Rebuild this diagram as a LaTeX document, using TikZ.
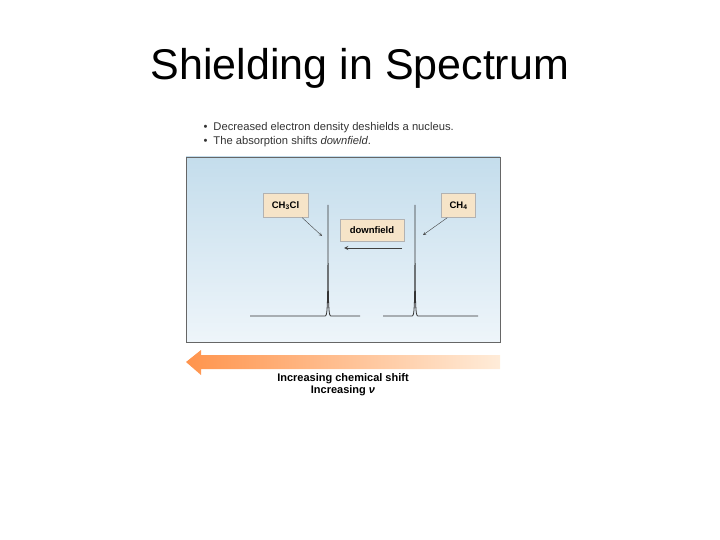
\documentclass[tikz,border=0pt]{standalone}
\usepackage{fontspec}
\setmainfont{Liberation Sans}
\definecolor{pantop}{HTML}{C4DDEC}
\definecolor{panbot}{HTML}{EEF5FA}
\definecolor{lblfill}{HTML}{F6E4C8}
\begin{document}
\begin{tikzpicture}[x=1pt,y=-1pt,
 lbl/.style={draw=black!30,fill=lblfill,font=\fontsize{9.5}{10}\selectfont\bfseries,inner sep=3pt},
 btxt/.style={anchor=west,font=\fontsize{11.2}{12}\selectfont,text=black!80},
 spec/.style={draw=black!80,line width=0.8pt}]
\useasboundingbox (0,0) rectangle (720,540);
\node (title) at (360,68) {\fontsize{43}{48}\selectfont Shielding in Spectrum};
\node[btxt] (b1) at (200,128) {\textbullet\hspace{6pt}Decreased electron density deshields a nucleus.};
\node[btxt] (b2) at (200,142) {\textbullet\hspace{6pt}The absorption shifts \textit{downfield}.};
\shade[top color=pantop,bottom color=panbot,draw=black!60] (186,157) rectangle (500,342);
\node[coordinate] (lt) at (328,205) {};
\node[coordinate] (rt) at (415,205) {};
\draw[spec] (250,316) -- (325,316) .. controls (327.5,316) and (328,312) .. (lt) .. controls (328,312) and (328.5,316) .. (331,316) -- (360,316);
\draw[spec] (383,316) -- (412,316) .. controls (414.5,316) and (415,312) .. (rt) .. controls (415,312) and (415.5,316) .. (418,316) -- (478,316);
\node[lbl,minimum width=45pt,minimum height=24pt] (ch3cl) at (285.5,205.5) {CH\textsubscript{3}Cl};
\node[lbl,minimum width=34pt,minimum height=24pt] (ch4) at (458.5,205.5) {CH\textsubscript{4}};
\node[lbl,minimum width=64pt,minimum height=22pt] (dn) at (372,230.5) {downfield};
\node[coordinate] (a1) at (322,236) {};
\node[coordinate] (a2) at (423,235) {};
\draw[-stealth,black!75] (ch3cl.south east) ++(-6,0) -- (a1);
\draw[-stealth,black!75] (ch4.south west) ++(6,0) -- (a2);
\node[coordinate] (ds) at (402,248) {};
\node[coordinate] (de) at (344,248) {};
\draw[-stealth,black!75,line width=0.9pt] (ds) -- (de);
\shade[left color=orange!80!red!70,right color=orange!15!white] (186,362) -- (201,350) -- (201,355) -- (500,355) -- (500,369) -- (201,369) -- (201,375) -- cycle;
\node (t1) at (343,379) {\fontsize{11}{12}\selectfont\bfseries Increasing chemical shift};
\node (t2) at (343,391) {\fontsize{11}{12}\selectfont\bfseries Increasing \textit{ν}};
\end{tikzpicture}
\end{document}
